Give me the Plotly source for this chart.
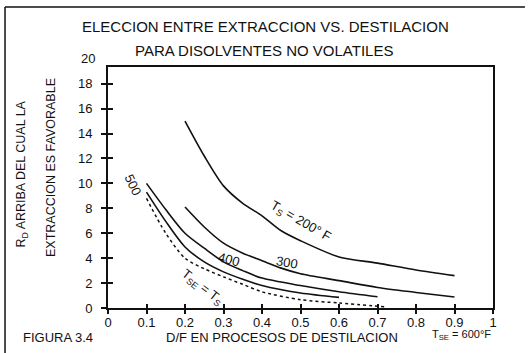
import plotly.graph_objects as go

# ---- data ----
x_200 = [0.2, 0.25, 0.3, 0.35, 0.4, 0.45, 0.5, 0.6, 0.7, 0.8, 0.9]
y_200 = [15.0, 12.2, 9.8, 8.4, 7.4, 6.2, 5.4, 4.1, 3.6, 3.05, 2.6]

x_300 = [0.2, 0.25, 0.3, 0.35, 0.4, 0.45, 0.5, 0.6, 0.7, 0.8, 0.9]
y_300 = [8.1, 6.5, 5.2, 4.4, 3.8, 3.2, 2.75, 2.2, 1.65, 1.25, 0.88]

x_400 = [0.1, 0.15, 0.2, 0.25, 0.3, 0.35, 0.4, 0.5, 0.6, 0.7]
y_400 = [10.0, 7.9, 6.0, 4.8, 3.7, 3.0, 2.4, 1.8, 1.3, 0.9]

x_500 = [0.1, 0.15, 0.2, 0.25, 0.3, 0.35, 0.4, 0.5, 0.6]
y_500 = [9.3, 6.95, 4.9, 3.7, 2.9, 2.3, 1.8, 1.2, 0.85]

x_se = [0.1, 0.15, 0.2, 0.25, 0.3, 0.35, 0.4, 0.5, 0.6, 0.72]
y_se = [8.8, 6.0, 4.0, 3.15, 2.5, 1.9, 1.3, 0.67, 0.4, 0.1]

x_ticks = [0, 0.1, 0.2, 0.3, 0.4, 0.5, 0.6, 0.7, 0.8, 0.9, 1]
y_ticks = [0, 2, 4, 6, 8, 10, 12, 14, 16, 18]
y_top_label = 20
Y_MAX = 19.34

FONT = "Liberation Sans, Arial, sans-serif"
BLACK = "#111111"

fig = go.Figure()
for xs, ys in [(x_200, y_200), (x_300, y_300), (x_400, y_400), (x_500, y_500)]:
    fig.add_trace(go.Scatter(x=xs, y=ys, mode="lines", line=dict(color=BLACK, width=1.6, shape="spline", smoothing=0.8),
                             showlegend=False, hoverinfo="skip"))
fig.add_trace(go.Scatter(x=x_se, y=y_se, mode="lines", line=dict(color=BLACK, width=1.5, dash="dot", shape="spline", smoothing=0.8),
                         showlegend=False, hoverinfo="skip"))
# helper trace for inner tick axes
fig.add_trace(go.Scatter(x=[None], y=[None], xaxis="x2", yaxis="y2", showlegend=False, hoverinfo="skip"))

axis_common = dict(showgrid=False, zeroline=False, color=BLACK)
fig.update_layout(
    width=532, height=353,
    margin=dict(l=108, r=39, t=67, b=45),
    paper_bgcolor="white", plot_bgcolor="white",
    font=dict(family=FONT, color=BLACK, size=13),
    xaxis=dict(range=[0, 1], tickvals=x_ticks, ticks="outside", ticklen=4, tickwidth=1.5,
               showline=True, linewidth=2, linecolor=BLACK, mirror=True, ticklabelstandoff=-3,
               tickfont=dict(size=13, family=FONT, color=BLACK), **axis_common),
    yaxis=dict(range=[0, Y_MAX], tickvals=y_ticks, ticks="outside", ticklen=5, tickwidth=1.5,
               showline=True, linewidth=2, linecolor=BLACK, mirror=True, ticklabelstandoff=6,
               tickfont=dict(size=13, family=FONT, color=BLACK), **axis_common),
    xaxis2=dict(range=[0, 1], overlaying="x", tickvals=x_ticks, ticks="inside", ticklen=4, tickwidth=1.5,
                showticklabels=False, showline=False, **axis_common),
    yaxis2=dict(range=[0, Y_MAX], overlaying="y", tickvals=y_ticks, ticks="inside", ticklen=5, tickwidth=1.5,
                showticklabels=False, showline=False, **axis_common),
)

ann = [
    dict(text="ELECCION ENTRE EXTRACCION VS. DESTILACION", x=0.41, y=1.166, xref="paper", yref="paper", font=dict(size=15)),
    dict(text="PARA DISOLVENTES NO VOLATILES", x=0.406, y=1.0705, xref="paper", yref="paper", font=dict(size=15)),
    dict(text="R<sub>D</sub> ARRIBA DEL CUAL LA", x=-0.2234, y=0.558, xref="paper", yref="paper", textangle=-90, font=dict(size=12.5)),
    dict(text="EXTRACCION ES FAVORABLE", x=-0.148, y=0.581, xref="paper", yref="paper", textangle=-90, font=dict(size=12.5)),
    dict(text="D/F EN PROCESOS DE DESTILACION", x=0.452, y=-0.122, xref="paper", yref="paper", font=dict(size=13)),
    dict(text="FIGURA 3.4", x=-0.13, y=-0.122, xref="paper", yref="paper", font=dict(size=13)),
    dict(text="T<sub>SE</sub> = 600°F", x=0.919, y=-0.114, xref="paper", yref="paper", font=dict(size=11)),
    dict(text=str(y_top_label), x=0, y=y_top_label / Y_MAX, xref="paper", yref="paper", xanchor="right", xshift=-11, font=dict(size=13)),
    dict(text="T<sub>S</sub> = 200° F", x=0.50, y=6.95, xref="x", yref="y", textangle=30, font=dict(size=13)),
    dict(text="300", x=0.466, y=3.65, xref="x", yref="y", textangle=10, font=dict(size=13)),
    dict(text="400", x=0.315, y=3.9, xref="x", yref="y", textangle=15, font=dict(size=13)),
    dict(text="500", x=0.066, y=9.85, xref="x", yref="y", textangle=65, font=dict(size=13)),
    dict(text="T<sub>SE</sub> = T<sub>S</sub>", x=0.245, y=1.66, xref="x", yref="y", textangle=38, font=dict(size=13)),
]
for a in ann:
    a.setdefault("showarrow", False)
    a.setdefault("xanchor", "center")
    a.setdefault("yanchor", "middle")
    fig.add_annotation(**a)

# outer border (top and left)
fig.add_shape(type="line", xref="paper", yref="paper", x0=-0.2675, x1=-0.2675, y0=-0.2, y1=1.249,
              line=dict(color=BLACK, width=1.5))
fig.add_shape(type="line", xref="paper", yref="paper", x0=-0.2675, x1=1.083, y0=1.249, y1=1.249,
              line=dict(color=BLACK, width=1.5))

fig.write_html("out.html", config={"displayModeBar": False},
               post_script="document.body.style.margin='0px';document.body.style.padding='0px';")
